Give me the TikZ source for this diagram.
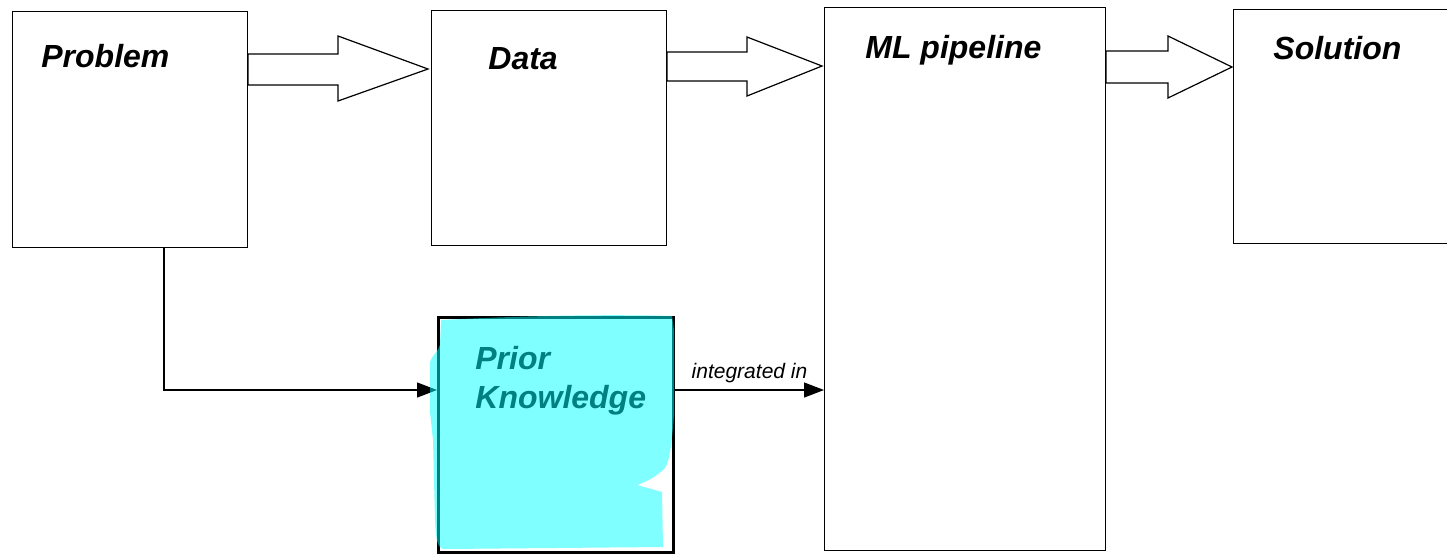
\documentclass[tikz,border=0pt]{standalone}
\usepackage{fontspec}
\setmainfont{Liberation Sans}
\usetikzlibrary{positioning}
\usetikzlibrary{arrows.meta}
\definecolor{hilitecyan}{RGB}{0,255,255}

\begin{document}
\begin{tikzpicture}
      [x=0.5pt,y=-0.5pt,
       box/.style={draw,line width=0.6pt,anchor=north west,inner sep=0pt},
       title/.style={anchor=base west,inner sep=0pt,font=\fontsize{16}{19.5}\selectfont\bfseries\itshape},
       conn/.style={line width=0.6pt,-{Triangle[length=10pt,width=7.5pt]}},
       blockarrow/.style={draw,line width=0.6pt,fill=white,line join=miter},
       hilite/.style={fill=hilitecyan,fill opacity=0.5}]
    \useasboundingbox (0,0) rectangle (1447,553);

    \node[box,minimum width=117.5pt,minimum height=118pt]  (prob)  at (12,11) {};
    \node[box,minimum width=117.5pt,minimum height=117.5pt]  (data)  at (431,10) {};
    \node[box,minimum width=140.5pt,minimum height=271.5pt]  (ml)  at (824,7) {};
    \node[box,minimum width=130pt,minimum height=117pt]  (sol)  at (1233,9) {};
    \node[box,line width=1.5pt,minimum width=117.5pt,minimum height=117.5pt]  (prior)  at (437,316) {};

    \node[title] (probt) at (41,67) {Problem};
    \node[title] (datat) at (488,69) {Data};
    \node[title] (mlt) at (865,58) {ML pipeline};
    \node[title] (solt) at (1273,59) {Solution};
    \node[title,align=left] (priort) at (475,408) {Prior\\Knowledge};

    % block arrows
    \draw[blockarrow] (248,54) -- (338,54) -- (338,36) -- (428,69) -- (338,101) -- (338,85) -- (248,85) -- cycle;
    \draw[blockarrow] (667,52) -- (747,52) -- (747,37) -- (822,66) -- (747,96) -- (747,81) -- (667,81) -- cycle;
    \draw[blockarrow] (1106,51) -- (1168,51) -- (1168,36) -- (1232,67) -- (1168,98) -- (1168,83) -- (1106,83) -- cycle;

    \coordinate (pin) at (437,390);
    \draw[conn] ([xshift=76pt]prob.south west) |- (pin);
    \draw[conn] (pin -| prior.east) -- (pin -| ml.west)
          node [midway,above=0pt,font=\fontsize{10.5}{12}\selectfont\itshape] {integrated in};

    % highlighter over prior knowledge
    \path[hilite] (441,320) .. controls (520,316) and (600,314) .. (672,316) -- (674,330) -- (674,415)
          .. controls (672,440) and (670,460) .. (665,468) .. controls (655,478) and (645,482) .. (637,485)
          -- (662,492) -- (663,547) -- (445,549) .. controls (437,549) and (436,540) .. (435,520)
          -- (433,440) -- (430,412) -- (430,362) .. controls (432,355) and (438,352) .. (440,345) -- cycle;
\end{tikzpicture}
\end{document}
